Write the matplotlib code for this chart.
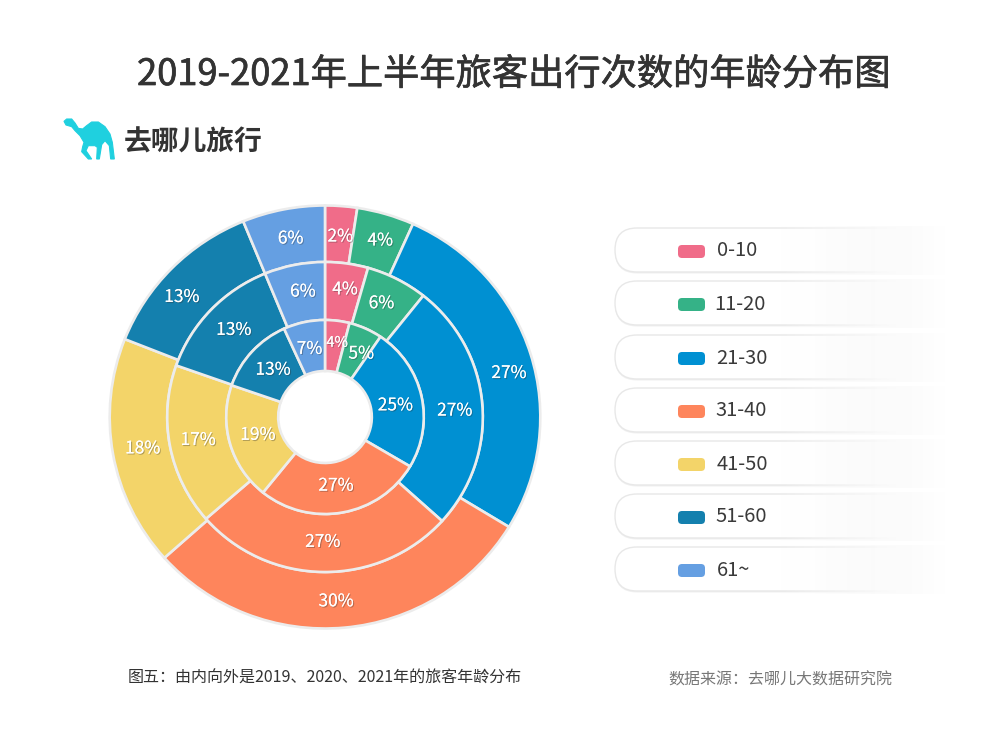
import matplotlib
matplotlib.use("Agg")
import matplotlib.pyplot as plt
import matplotlib.patheffects as pe
from matplotlib.patches import FancyBboxPatch, Polygon
import numpy as np

plt.rcParams["font.family"] = ["Noto Sans CJK SC", "DejaVu Sans"]

ages = ["0-10", "11-20", "21-30", "31-40", "41-50", "51-60", "61~"]
colors = ["#F06C89", "#35B287", "#0090D2", "#FE855C", "#F3D469", "#1480AE", "#659FE2"]

# shares, labels as printed
share_2019 = [4.0, 5.5, 24.0, 27.3, 19.5, 12.9, 6.8]
share_2020 = [4.4, 6.3, 26.0, 26.9, 16.8, 13.4, 6.2]
share_2021 = [2.4, 4.3, 27.0, 29.7, 17.6, 12.8, 6.2]
label_2019 = ["4%", "5%", "25%", "27%", "19%", "13%", "7%"]
label_2020 = ["4%", "6%", "27%", "27%", "17%", "13%", "6%"]
label_2021 = ["2%", "4%", "27%", "30%", "18%", "13%", "6%"]

title = "2019-2021年上半年旅客出行次数的年龄分布图"
note = "图五：由内向外是2019、2020、2021年的旅客年龄分布"
source = "数据来源：去哪儿大数据研究院"
brand = "去哪儿旅行"

H = 740
fig = plt.figure(figsize=(10, 7.4), dpi=100)
ax = fig.add_axes([0, 0, 1, 1])

# the source pie is a touch wider than tall, so it gets its own axes
pie_ax = fig.add_axes([0, 0, 1, 1], zorder=1)
pie_ax.patch.set_alpha(0)
stretch = 1.018
center = (325, H - 417)

# rings, outermost first
rings = [
    (share_2021, label_2021, 211.5, 56.5, 0.875),
    (share_2020, label_2020, 155, 58, 0.825),
    (share_2019, label_2019, 97, 51, 0.74),
]
for shares, labels, radius, width, dist in rings:
    wedges, texts = pie_ax.pie(
        shares, colors=colors, labels=labels, radius=radius, center=center,
        startangle=90, counterclock=False, labeldistance=dist, frame=True,
        wedgeprops=dict(width=width, edgecolor="#ECECEC", linewidth=1.9),
    )
    for t in texts:
        t.set_ha("center")
        t.set_va("center")
        t.set_color("white")
        t.set_fontsize(12.5)
        t.set_path_effects([pe.withSimplePatchShadow(offset=(0.8, -0.8), alpha=0.35, shadow_rgbFace="#333333"), pe.Normal()])

# labels sit off the middle of their slice in the source (dx, dy in pixels)
nudges = [(1, -4), (2, -1), (4, -11), (-6, 0), (3, 1), (-9, -10), (2, -3),
          (2, 1), (-3, 0), (0, -4), (-1, 3), (1, 1), (3, -1), (3, 0),
          (3, 3), (6, -2), (-1, -4), (-2, 2), (3, 2), (2, -1), (0, -2)]
for t, (dx, dy) in zip(pie_ax.texts, nudges):
    px, py = t.get_position()
    t.set_position((px + dx, py + dy))
pie_ax.texts[14].set_fontsize(10.5)

# legend pills
tops = [228, 281, 335, 388, 441, 494, 547]
text_x = [717, 714, 716, 715, 717, 715, 717]
fade = np.linspace(0, 1, 200)
for age, col, top, tx in zip(ages, colors, tops, text_x):
    shadow = FancyBboxPatch((615, H - top - 45.5), 325, 44, boxstyle="round,pad=0,rounding_size=22",
                            facecolor="#F1F1F1", edgecolor="none", zorder=1.5)
    ax.add_patch(shadow)
    pill = FancyBboxPatch((615, H - top - 44), 325, 44, boxstyle="round,pad=0,rounding_size=22",
                          facecolor="white", edgecolor="#E8E8E8", linewidth=1.0, zorder=2)
    ax.add_patch(pill)
    # fade to the right end of the pill
    rgba = np.ones((1, 200, 4))
    grey = np.interp(fade, [0, 0.35, 0.8, 1], [255, 250, 252, 255]) / 255
    rgba[..., 0] = rgba[..., 1] = rgba[..., 2] = grey
    rgba[..., 3] = np.interp(fade, [0, 0.4, 0.7, 1], [0, 0.6, 1, 1])
    ax.imshow(rgba, extent=(780, 945, H - top - 47, H - top + 2), aspect="auto", zorder=3)
    swatch = FancyBboxPatch((678, H - top - 30), 27, 13, boxstyle="round,pad=0,rounding_size=4",
                            facecolor=col, edgecolor="none", zorder=4)
    ax.add_patch(swatch)
    ax.text(tx, H - top - 23, age, fontsize=14.5, color="#3A3A3A", va="center", ha="left", zorder=5)

# camel logo, traced in pixels of the 60x50 crop at (60, 114)
camel = [(12, 22), (20, 15), (35, 15), (45, 27), (55, 43), (68, 45), (80, 35), (95, 24), (115, 24),
         (135, 38), (150, 60), (157, 85), (163, 135), (152, 135), (148, 95), (135, 80), (125, 92),
         (118, 135), (110, 135), (112, 100), (105, 95), (85, 95), (78, 110), (95, 135), (85, 135),
         (65, 113), (68, 98), (72, 85), (60, 65), (45, 50), (35, 38), (18, 33)]
ax.add_patch(Polygon([(x / 3 + 60, H - (y / 3 + 114)) for x, y in camel], closed=True,
                     facecolor="#1FD0DF", edgecolor="#1FD0DF", linewidth=0.8))

title_text = ax.text(514, H - 75, title, fontsize=26.1, color="#333333", ha="center", va="center")
title_text.set_path_effects([pe.withStroke(linewidth=0.5, foreground="#333333")])
ax.text(124, H - 143, brand, fontsize=20, fontweight="bold", color="#333333", ha="left", va="center")
ax.text(128, H - 678, note, fontsize=11.55, color="#333333", ha="left", va="center")
ax.text(668, H - 680, source, fontsize=11.5, color="#777777", ha="left", va="center")

ax.set_xlim(0, 1000)
ax.set_ylim(0, H)
ax.set_aspect("auto")
ax.axis("off")

pie_ax.set_xlim(center[0] - center[0] / stretch, center[0] + (1000 - center[0]) / stretch)
pie_ax.set_ylim(0, H)
pie_ax.set_aspect("auto")
pie_ax.axis("off")
fig.savefig("out.png", dpi=100, facecolor="white")
